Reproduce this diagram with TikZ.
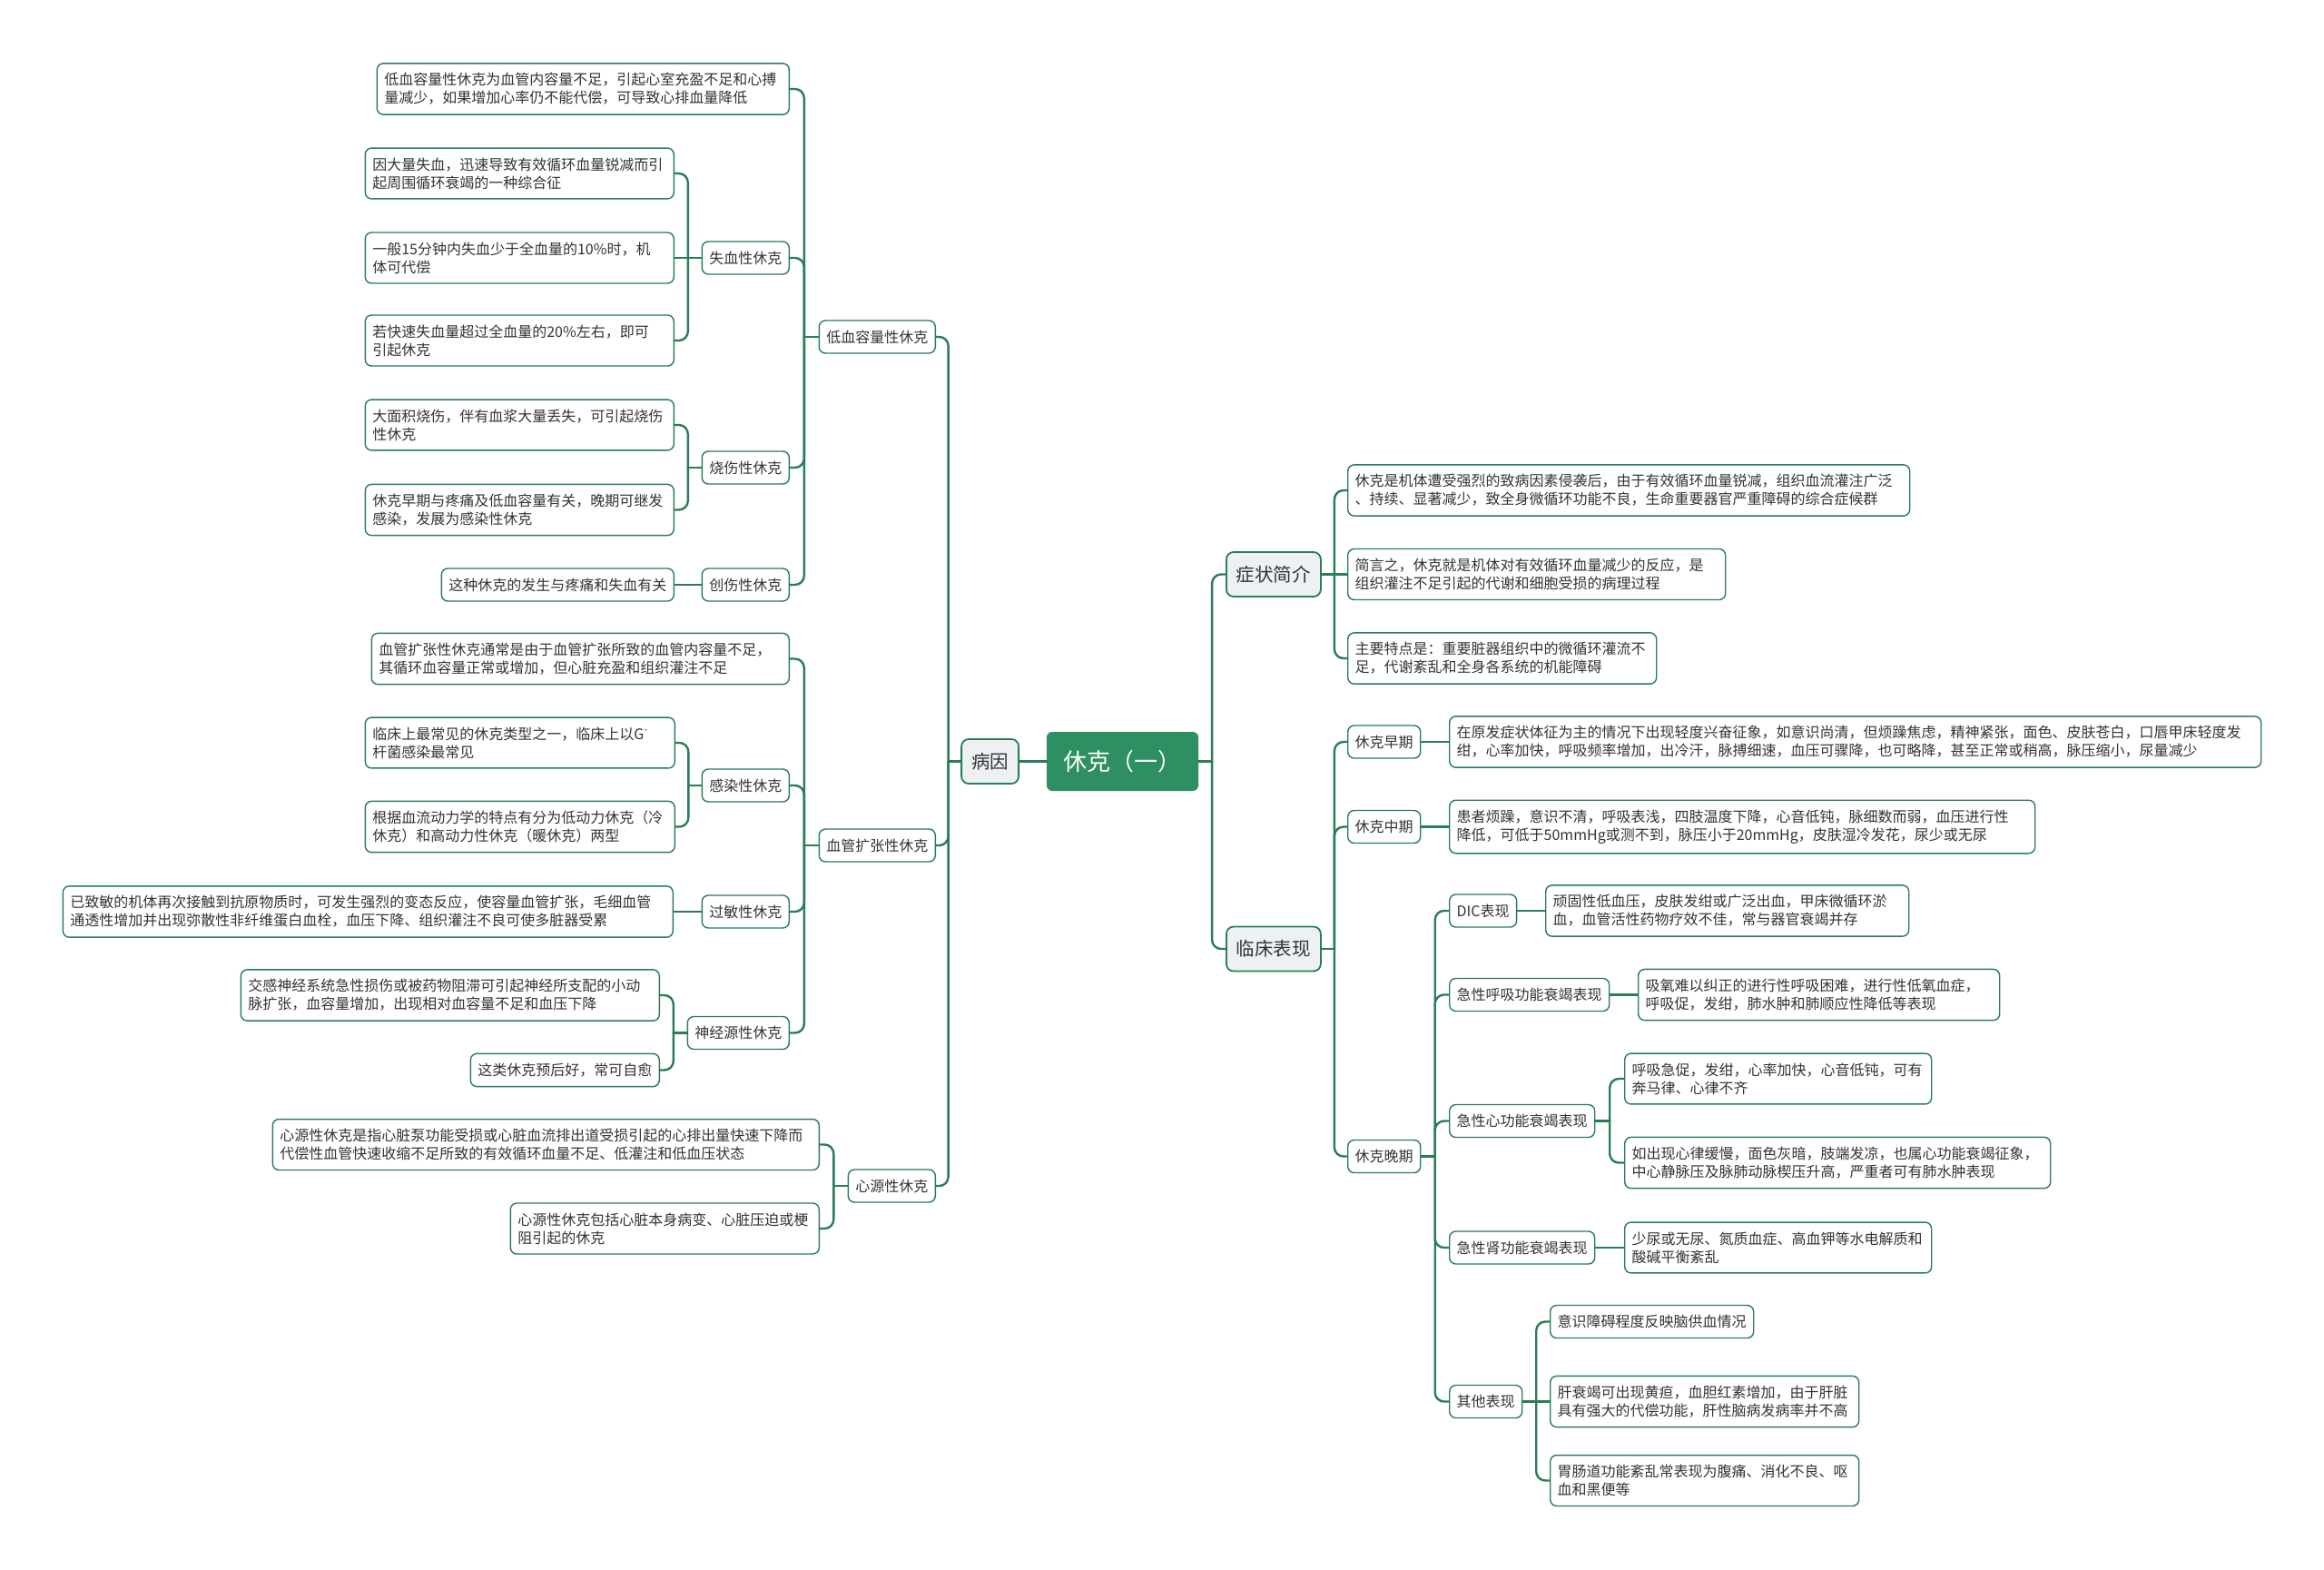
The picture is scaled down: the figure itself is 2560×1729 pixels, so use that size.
\documentclass[tikz,border=0pt]{standalone}
\usepackage{fontspec}
\setmainfont{Noto Sans CJK SC}
\usetikzlibrary{calc}
\definecolor{rootgreen}{HTML}{2E8F62}
\definecolor{linegreen}{HTML}{2A7D55}
\definecolor{topicgray}{HTML}{EEF1F4}
\definecolor{textdark}{HTML}{333333}
\newcommand\linkL[2]{\coordinate (tmp) at ($(#1.west)!.5!(#1.west -| #2.east)$);
	\draw[link] (#1.west) -- (tmp);
	\draw[link, rounded corners=10pt] (tmp) |- (#2.east);}
\newcommand\linkR[2]{\coordinate (tmp) at ($(#1.east)!.5!(#1.east -| #2.west)$);
	\draw[link] (#1.east) -- (tmp);
	\draw[link, rounded corners=10pt] (tmp) |- (#2.west);}
\tikzset{
	root/.style={fill=rootgreen, text=white, rounded corners=6pt, font=\fontsize{26}{30}\selectfont, minimum width=167pt, minimum height=65pt},
	topic/.style={draw=linegreen, line width=1.8pt, fill=topicgray, text=textdark, rounded corners=8pt, font=\fontsize{20.5}{24}\selectfont, inner xsep=11pt, minimum height=49pt},
	sub/.style={draw=linegreen, line width=1.4pt, fill=white, text=textdark, rounded corners=7pt, font=\fontsize{16}{20}\selectfont, inner xsep=8pt, inner ysep=10.5pt, minimum height=36pt},
	note/.style={sub, text width=#1pt, align=left},
	link/.style={draw=linegreen, line width=2.4pt, line cap=round}
}

\begin{document}
\begin{tikzpicture}[x=1pt, y=-1pt]
		%%%%% START %%%%%
		\fill[white] (0,0) rectangle (2560,1729);
		\useasboundingbox (0,0) rectangle (2560,1729);
		
		\node[root] (shock) at (1236.5,838.5) {休克（一）};
		\node[topic, anchor=east] (cause) at (1123,838.5) {病因};
		\node[topic, anchor=west] (symp) at (1350,632.5) {症状简介};
		\node[topic, anchor=west] (clin) at (1350,1045) {临床表现};
		
		% left: causes
		\node[sub, anchor=east] (hypo) at (1031,371) {低血容量性休克};
		\node[sub, anchor=east] (vaso) at (1031,931) {血管扩张性休克};
		\node[sub, anchor=east] (cardio) at (1031,1306) {心源性休克};
		
		\node[note=438, anchor=east] (hypo0) at (870,98) {低血容量性休克为血管内容量不足，引起心室充盈不足和心搏\\量减少，如果增加心率仍不能代偿，可导致心排血量降低};
		\node[sub, anchor=east] (blood) at (870,284) {失血性休克};
		\node[sub, anchor=east] (burn) at (870,515) {烧伤性休克};
		\node[sub, anchor=east] (trauma) at (870,644) {创伤性休克};
		
		\node[note=324, anchor=east] (blood1) at (743,191) {因大量失血，迅速导致有效循环血量锐减而引\\起周围循环衰竭的一种综合征};
		\node[note=324, anchor=east] (blood2) at (743,284) {一般15分钟内失血少于全血量的10\%时，机\\体可代偿};
		\node[note=324, anchor=east] (blood3) at (743,375) {若快速失血量超过全血量的20\%左右，即可\\引起休克};
		\node[note=324, anchor=east] (burn1) at (743,468) {大面积烧伤，伴有血浆大量丢失，可引起烧伤\\性休克};
		\node[note=324, anchor=east] (burn2) at (743,561.5) {休克早期与疼痛及低血容量有关，晚期可继发\\感染，发展为感染性休克};
		\node[sub, anchor=east] (trauma1) at (743,644) {这种休克的发生与疼痛和失血有关};
		
		\node[note=444, anchor=east] (vaso0) at (870,725.5) {血管扩张性休克通常是由于血管扩张所致的血管内容量不足，\\其循环血容量正常或增加，但心脏充盈和组织灌注不足};
		\node[sub, anchor=east] (sepsis) at (870,865) {感染性休克};
		\node[sub, anchor=east] (allergy) at (870,1004) {过敏性休克};
		\node[sub, anchor=east] (neuro) at (870,1137.5) {神经源性休克};
		
		\node[note=325, anchor=east] (sepsis1) at (744,818) {临床上最常见的休克类型之一，临床上以G\textsuperscript{-}\\杆菌感染最常见};
		\node[note=325, anchor=east] (sepsis2) at (744,910.5) {根据血流动力学的特点有分为低动力休克（冷\\休克）和高动力性休克（暖休克）两型};
		\node[note=656, anchor=east] (allergy1) at (742,1004) {已致敏的机体再次接触到抗原物质时，可发生强烈的变态反应，使容量血管扩张，毛细血管\\通透性增加并出现弥散性非纤维蛋白血栓，血压下降、组织灌注不良可使多脏器受累};
		\node[note=445, anchor=east] (neuro1) at (727,1096) {交感神经系统急性损伤或被药物阻滞可引起神经所支配的小动\\脉扩张，血容量增加，出现相对血容量不足和血压下降};
		\node[sub, anchor=east] (neuro2) at (727,1178.5) {这类休克预后好，常可自愈};
		
		\node[note=586, anchor=east] (cardio1) at (903,1260.5) {心源性休克是指心脏泵功能受损或心脏血流排出道受损引起的心排出量快速下降而\\代偿性血管快速收缩不足所致的有效循环血量不足、低灌注和低血压状态};
		\node[note=324, anchor=east] (cardio2) at (903,1353) {心源性休克包括心脏本身病变、心脏压迫或梗\\阻引起的休克};
		
		% right: symptoms and signs
		\node[note=603, anchor=west] (symp1) at (1484,540) {休克是机体遭受强烈的致病因素侵袭后，由于有效循环血量锐减，组织血流灌注广泛\\、持续、显著减少，致全身微循环功能不良，生命重要器官严重障碍的综合症候群};
		\node[note=400, anchor=west] (symp2) at (1484,632.5) {简言之，休克就是机体对有效循环血量减少的反应，是\\组织灌注不足引起的代谢和细胞受损的病理过程};
		\node[note=324, anchor=west] (symp3) at (1484,725) {主要特点是：重要脏器组织中的微循环灌流不\\足，代谢紊乱和全身各系统的机能障碍};
		
		\node[sub, anchor=west] (early) at (1484,817) {休克早期};
		\node[sub, anchor=west] (middle) at (1484,910.5) {休克中期};
		\node[sub, anchor=west] (late) at (1484,1273.5) {休克晚期};
		
		\node[note=878, anchor=west] (early1) at (1596,817) {在原发症状体征为主的情况下出现轻度兴奋征象，如意识尚清，但烦躁焦虑，精神紧张，面色、皮肤苍白，口唇甲床轻度发\\绀，心率加快，呼吸频率增加，出冷汗，脉搏细速，血压可骤降，也可略降，甚至正常或稍高，脉压缩小，尿量减少};
		\node[note=629, anchor=west] (middle1) at (1596,910.5) {患者烦躁，意识不清，呼吸表浅，四肢温度下降，心音低钝，脉细数而弱，血压进行性\\降低，可低于50mmHg或测不到，脉压小于20mmHg，皮肤湿冷发花，尿少或无尿};
		
		\node[sub, anchor=west] (dic) at (1596,1003) {DIC表现};
		\node[sub, anchor=west] (resp) at (1596,1095.5) {急性呼吸功能衰竭表现};
		\node[sub, anchor=west] (heart) at (1596,1234.5) {急性心功能衰竭表现};
		\node[sub, anchor=west] (kidney) at (1596,1374) {急性肾功能衰竭表现};
		\node[sub, anchor=west] (other) at (1596,1543.5) {其他表现};
		
		\node[note=384, anchor=west] (dic1) at (1702,1003) {顽固性低血压，皮肤发绀或广泛出血，甲床微循环淤\\血，血管活性药物疗效不佳，常与器官衰竭并存};
		\node[note=382, anchor=west] (resp1) at (1804,1095.5) {吸氧难以纠正的进行性呼吸困难，进行性低氧血症，\\呼吸促，发绀，肺水肿和肺顺应性降低等表现};
		\node[note=322, anchor=west] (heart1) at (1789,1188) {呼吸急促，发绀，心率加快，心音低钝，可有\\奔马律、心律不齐};
		\node[note=453, anchor=west] (heart2) at (1789,1280.5) {如出现心律缓慢，面色灰暗，肢端发凉，也属心功能衰竭征象，\\中心静脉压及脉肺动脉楔压升高，严重者可有肺水肿表现};
		\node[note=322, anchor=west] (kidney1) at (1789,1374) {少尿或无尿、氮质血症、高血钾等水电解质和\\酸碱平衡紊乱};
		\node[sub, anchor=west] (other1) at (1707,1455.5) {意识障碍程度反映脑供血情况};
		\node[note=324, anchor=west] (other2) at (1707,1543.5) {肝衰竭可出现黄疸，血胆红素增加，由于肝脏\\具有强大的代偿功能，肝性脑病发病率并不高};
		\node[note=324, anchor=west] (other3) at (1707,1630.5) {胃肠道功能紊乱常表现为腹痛、消化不良、呕\\血和黑便等};
		
		% connectors
		\draw[link] (shock.west) -- (cause.east);
		\linkR{shock}{symp}
		\linkR{shock}{clin}
		
		\linkL{cause}{hypo}
		\linkL{cause}{vaso}
		\linkL{cause}{cardio}
		
		\linkL{hypo}{hypo0}
		\linkL{hypo}{blood}
		\linkL{hypo}{burn}
		\linkL{hypo}{trauma}
		\linkL{blood}{blood1}
		\draw[link] (blood.west) -- (blood2.east);
		\linkL{blood}{blood3}
		\linkL{burn}{burn1}
		\linkL{burn}{burn2}
		\draw[link] (trauma.west) -- (trauma1.east);
		
		\linkL{vaso}{vaso0}
		\linkL{vaso}{sepsis}
		\linkL{vaso}{allergy}
		\linkL{vaso}{neuro}
		\linkL{sepsis}{sepsis1}
		\linkL{sepsis}{sepsis2}
		\draw[link] (allergy.west) -- (allergy1.east);
		\linkL{neuro}{neuro1}
		\linkL{neuro}{neuro2}
		
		\linkL{cardio}{cardio1}
		\linkL{cardio}{cardio2}
		
		\linkR{symp}{symp1}
		\draw[link] (symp.east) -- (symp2.west);
		\linkR{symp}{symp3}
		
		\linkR{clin}{early}
		\linkR{clin}{middle}
		\linkR{clin}{late}
		\draw[link] (early.east) -- (early1.west);
		\draw[link] (middle.east) -- (middle1.west);
		
		\linkR{late}{dic}
		\linkR{late}{resp}
		\linkR{late}{heart}
		\linkR{late}{kidney}
		\linkR{late}{other}
		\draw[link] (dic.east) -- (dic1.west);
		\draw[link] (resp.east) -- (resp1.west);
		\linkR{heart}{heart1}
		\linkR{heart}{heart2}
		\draw[link] (kidney.east) -- (kidney1.west);
		\linkR{other}{other1}
		\draw[link] (other.east) -- (other2.west);
		\linkR{other}{other3}
		%%%%% END %%%%%
\end{tikzpicture}
\end{document}
